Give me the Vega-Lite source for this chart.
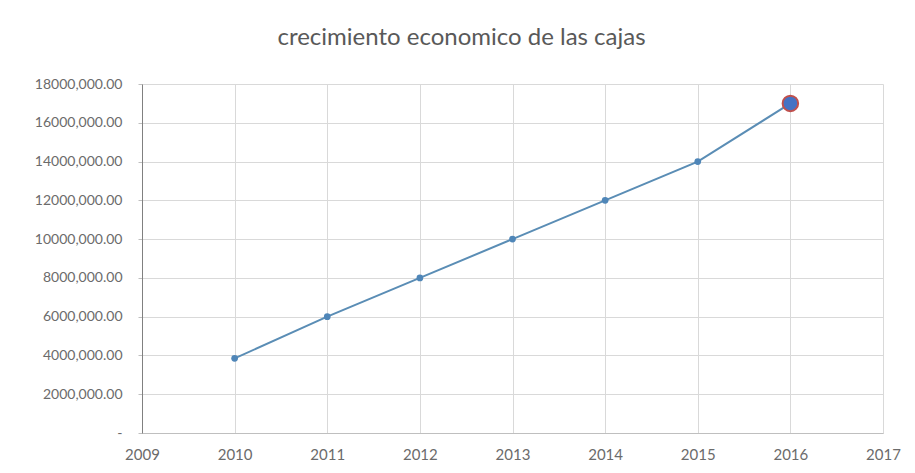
{
  "$schema": "https://vega.github.io/schema/vega-lite/v6.json",
  "autosize": {"type": "none"},
  "padding": {"left": 142, "top": 84, "right": 32, "bottom": 40},
  "width": 741,
  "height": 349,
  "background": "white",
  "title": {
    "text": "crecimiento economico de las cajas",
    "fontSize": 24,
    "font": "Lato",
    "fontWeight": "normal",
    "color": "#595959",
    "offset": 27,
    "dx": -51
  },
  "data": {
    "values": [
      {"year": 2010, "value": 3850000},
      {"year": 2011, "value": 6000000},
      {"year": 2012, "value": 8000000},
      {"year": 2013, "value": 10000000},
      {"year": 2014, "value": 12000000},
      {"year": 2015, "value": 14000000},
      {"year": 2016, "value": 17000000}
    ]
  },
  "encoding": {
    "x": {
      "field": "year",
      "type": "quantitative",
      "scale": {"domain": [2009, 2017], "nice": false, "zero": false},
      "axis": {
        "title": null,
        "values": [2009, 2010, 2011, 2012, 2013, 2014, 2015, 2016, 2017],
        "format": "d",
        "grid": true,
        "gridColor": "#d9d9d9",
        "domainColor": "#bfbfbf",
        "ticks": false,
        "labelFlush": false,
        "labelOverlap": false,
        "labelPadding": 14,
        "labelFont": "Lato",
        "labelFontSize": 15,
        "labelColor": "#6b6b6b"
      }
    },
    "y": {
      "field": "value",
      "type": "quantitative",
      "scale": {"domain": [0, 18000000], "nice": false},
      "axis": {
        "title": null,
        "values": [0, 2000000, 4000000, 6000000, 8000000, 10000000, 12000000, 14000000, 16000000, 18000000],
        "labelExpr": "datum.value == 0 ? '-' : format(datum.value / 1000, 'd') + ',000.00'",
        "grid": true,
        "gridColor": "#d9d9d9",
        "domainColor": "#808080",
        "ticks": true,
        "tickSize": 4,
        "tickColor": "#bfbfbf",
        "labelFlush": false,
        "labelOverlap": false,
        "labelPadding": 16,
        "labelFont": "Lato",
        "labelFontSize": 14,
        "labelColor": "#6b6b6b"
      }
    }
  },
  "layer": [
    {
      "mark": {"type": "line", "color": "#5a8db5", "strokeWidth": 2}
    },
    {
      "mark": {"type": "point", "filled": true, "color": "#4f86b8", "size": 45, "opacity": 1}
    },
    {
      "transform": [{"filter": "datum.year == 2016"}],
      "mark": {"type": "point", "filled": true, "fill": "#4472c4", "stroke": "#c0504d", "strokeWidth": 2, "size": 240, "opacity": 1}
    }
  ],
  "config": {
    "view": {"stroke": null}
  }
}
